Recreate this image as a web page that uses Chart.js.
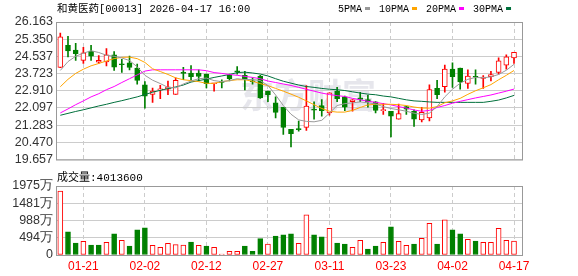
<!DOCTYPE html>
<html>
<head>
<meta charset="utf-8">
<script src="https://cdn.jsdelivr.net/npm/chart.js@4.4.1/dist/chart.umd.min.js"></script>
<style>
  html, body { margin: 0; padding: 0; background: #fff; }
  #wrap { position: relative; width: 578px; height: 276px; overflow: hidden; }
  #price { position: absolute; left: 0; top: 0; }
  #volume { position: absolute; left: 0; top: 170px; }
</style>
</head>
<body>
<div id="wrap">
  <canvas id="price" width="578" height="170"></canvas>
  <canvas id="volume" width="578" height="106"></canvas>
</div>
<script>
const stockName = '和黄医药[00013]';
const updateTime = '2026-04-17 16:00';

const dates = ['01-16','01-19','01-20','01-21','01-22','01-23','01-26','01-27','01-28','01-29',
  '01-30','02-02','02-03','02-04','02-05','02-06','02-09','02-10','02-11','02-12',
  '02-13','02-16','02-20','02-23','02-24','02-25','02-26','02-27','03-02','03-03',
  '03-04','03-05','03-06','03-09','03-10','03-11','03-12','03-13','03-16','03-17',
  '03-18','03-19','03-20','03-23','03-24','03-25','03-26','03-27','03-30','03-31',
  '04-01','04-02','04-08','04-09','04-10','04-13','04-14','04-15','04-16','04-17'];

const openP = [24.01,25.06,24.84,24.35,24.79,24.26,24.28,24.61,24.17,24.23,
  23.98,23.19,22.74,22.95,22.98,22.74,23.78,23.75,23.75,23.70,
  23.24,23.34,23.64,23.83,23.64,23.37,23.60,22.89,22.34,22.13,
  21.08,21.09,21.18,22.01,22.21,21.86,22.89,22.62,22.39,22.57,
  22.49,22.39,21.97,21.94,21.56,22.16,21.94,21.53,21.63,23.02,
  23.10,23.93,23.98,23.26,23.58,23.49,23.58,23.78,24.12,24.46];
const highP = [25.64,25.48,25.15,24.97,25.06,24.58,24.91,24.76,24.40,24.55,
  24.17,23.34,23.04,23.17,23.37,23.52,24.02,24.10,23.90,23.70,
  23.26,23.43,23.70,24.05,23.83,23.52,23.64,22.89,22.62,22.13,
  21.08,21.48,23.15,22.39,22.49,22.81,23.07,22.66,22.49,22.84,
  22.69,22.40,22.31,21.94,22.28,22.19,22.01,22.13,23.19,23.40,
  24.12,24.23,23.98,23.90,23.90,23.63,23.83,24.47,24.61,24.73];
const lowP = [24.00,24.51,24.35,24.20,24.35,24.20,24.08,23.87,23.78,23.90,
  23.22,22.09,22.36,22.54,22.72,22.74,23.44,23.37,23.37,23.04,
  22.89,23.04,23.37,23.70,22.95,23.22,22.55,22.39,21.63,20.84,
  20.25,21.00,21.03,21.56,21.71,21.75,22.39,21.97,21.94,22.39,
  22.13,21.86,21.79,20.73,21.56,21.79,21.22,21.44,21.48,22.54,
  22.84,23.07,22.99,23.02,23.22,23.02,23.37,23.70,23.93,24.20];
const closeP = [25.46,24.80,24.67,24.70,24.55,24.35,24.61,24.02,24.14,24.01,
  23.40,22.65,22.89,22.99,23.10,23.40,23.73,23.58,23.59,23.25,
  23.26,23.31,23.48,23.80,23.48,23.33,22.57,22.72,21.89,21.18,
  20.88,21.07,22.19,21.99,21.97,22.81,22.54,22.13,22.48,22.50,
  22.39,21.98,21.99,21.71,21.83,22.04,21.56,21.89,22.96,22.72,
  23.93,23.58,23.33,23.60,23.55,23.56,23.67,24.32,24.51,24.73];

// 成交量, 单位: 万股
const volumes = [1830,660,344,393,287,287,364,603,421,258,
  718,775,278,220,335,297,287,373,278,258,
  220,20,105,105,258,105,469,316,545,574,
  603,335,1148,574,517,765,344,316,220,421,
  172,258,364,804,393,278,316,478,909,316,
  1005,718,603,450,402,364,364,765,421,401.36];

const ma5 = [23.87,24.29,24.54,24.69,24.80,24.72,24.59,24.54,24.46,24.34,
  24.04,23.64,23.41,23.25,23.07,23.05,23.23,23.37,23.48,23.51,
  23.39,23.34,23.39,23.48,23.44,23.44,23.39,23.16,22.71,22.21,
  21.80,21.53,21.46,21.44,21.51,21.85,22.21,22.30,22.34,22.38,
  22.34,22.28,22.16,22.07,22.01,21.94,21.85,21.79,21.85,22.16,
  22.62,22.98,23.27,23.45,23.54,23.52,23.57,23.68,23.88,24.16];
const ma10 = [23.10,23.45,23.73,23.93,24.09,24.20,24.32,24.43,24.49,24.50,
  24.43,24.25,23.95,23.82,23.68,23.52,23.43,23.39,23.34,23.26,
  23.26,23.34,23.39,23.43,23.43,23.36,23.25,23.15,23.02,22.89,
  22.75,22.60,22.43,22.25,22.07,21.94,21.90,21.90,21.98,22.12,
  22.24,22.27,22.27,22.27,22.25,22.21,22.14,22.09,22.09,22.16,
  22.34,22.43,22.55,22.74,22.91,23.05,23.20,23.43,23.64,23.87];
const ma20 = [21.86,22.05,22.25,22.43,22.62,22.77,22.96,23.11,23.30,23.48,
  23.66,23.84,23.90,23.90,23.90,23.90,23.90,23.90,23.90,23.86,
  23.77,23.73,23.68,23.64,23.59,23.54,23.48,23.37,23.30,23.23,
  23.16,23.07,22.98,22.89,22.80,22.73,22.68,22.64,22.55,22.48,
  22.41,22.36,22.30,22.24,22.16,22.09,22.00,21.94,21.98,22.12,
  22.21,22.32,22.41,22.49,22.57,22.64,22.71,22.80,22.89,22.99];
const ma30 = [21.75,21.84,21.93,22.01,22.10,22.19,22.27,22.36,22.44,22.53,
  22.62,22.73,22.84,22.93,23.01,23.09,23.18,23.32,23.39,23.46,
  23.54,23.61,23.68,23.77,23.79,23.75,23.70,23.61,23.48,23.36,
  23.27,23.18,23.11,23.07,23.02,22.98,22.96,22.92,22.86,22.80,
  22.75,22.72,22.66,22.62,22.55,22.48,22.43,22.41,22.38,22.36,
  22.36,22.36,22.36,22.36,22.36,22.36,22.41,22.47,22.57,22.69];

const priceTicks = [19.657, 20.470, 21.283, 22.097, 22.910, 23.723, 24.537, 25.350, 26.163];
const volumeTicks = [0, 494, 988, 1481, 1975];
const dateTickIdx = [3, 11, 19, 27, 35, 43, 51, 59];

const RED = '#ff0000';
const GREEN = '#008000';
const GRID = '#cccccc';
const AXIS_FONT = { family: "'Liberation Sans', Arial, sans-serif", size: 12.5 };

const maLines = [
  { name: '5PMA', values: ma5, color: '#999999' },
  { name: '10PMA', values: ma10, color: '#ffa500' },
  { name: '20PMA', values: ma20, color: '#ff00ff' },
  { name: '30PMA', values: ma30, color: '#00703c' }
];

const up = closeP.map((c, i) => c >= openP[i]);
const volUp = closeP.map((c, i) => i === 0 ? c >= openP[0] : c >= closeP[i - 1]);

// shared x axis (index of trading day)
function xAxis(showLabels) {
  return {
    type: 'linear',
    offset: false,
    min: -0.56,
    max: 60.04,
    afterBuildTicks: s => { s.ticks = dateTickIdx.map(v => ({ value: v })); },
    afterFit: s => { s.height = showLabels ? 21 : 0; },
    grid: { color: GRID, drawTicks: false, offset: false },
    border: { display: false, dash: [4, 3] },
    ticks: {
      display: showLabels,
      autoSkip: false,
      maxRotation: 0,
      padding: 4,
      color: RED,
      font: { family: "'Liberation Sans', Arial, sans-serif", size: 12 },
      callback: v => dates[v]
    }
  };
}

function yAxis(ticksList, format) {
  return {
    min: ticksList[0],
    max: ticksList[ticksList.length - 1],
    afterBuildTicks: s => { s.ticks = ticksList.map(v => ({ value: v })); },
    afterFit: s => { s.width = 56; },
    grid: { color: GRID, drawTicks: false },
    border: { display: false },
    ticks: { color: '#333', font: AXIS_FONT, padding: 3, autoSkip: false, callback: format }
  };
}

const framePlugin = {
  id: 'frame',
  afterDraw(chart) {
    const { ctx, chartArea: a } = chart;
    ctx.save();
    ctx.strokeStyle = '#999999';
    ctx.lineWidth = 1;
    ctx.strokeRect(a.left + 0.5, a.top + 0.5, a.right - a.left, a.bottom - a.top);
    ctx.restore();
  }
};

const priceText = {
  id: 'priceText',
  beforeDraw(chart) {
    // 水印
    const ctx = chart.ctx;
    ctx.save();
    ctx.font = "bold 34px 'Noto Sans CJK SC'";
    ctx.fillStyle = '#e6e6ec';
    ctx.textBaseline = 'alphabetic';
    ctx.fillText('东方财富', 240, 108);
    ctx.restore();
  },
  afterDraw(chart) {
    const ctx = chart.ctx;
    ctx.save();
    ctx.fillStyle = '#000';
    ctx.textBaseline = 'middle';
    ctx.font = "10.5px 'Liberation Mono', 'Noto Sans CJK SC'";
    ctx.fillText(stockName + ' ' + updateTime, 57, 9);

    // 均线图例
    ctx.font = "10px 'Liberation Mono', monospace";
    let x = 338;
    maLines.forEach(m => {
      ctx.fillStyle = '#000';
      ctx.fillText(m.name, x, 9);
      x += ctx.measureText(m.name).width + 3;
      ctx.fillStyle = m.color;
      ctx.fillRect(x, 7, 5, 3);
      x += 5 + 9;
    });
    ctx.restore();
  }
};

const volumeText = {
  id: 'volumeText',
  afterDraw(chart) {
    const ctx = chart.ctx;
    ctx.save();
    ctx.fillStyle = '#000';
    ctx.textBaseline = 'middle';
    ctx.font = "11px 'Liberation Mono', 'Noto Sans CJK SC'";
    ctx.fillText('成交量:' + Math.round(volumes[volumes.length - 1] * 10000), 57, 8);
    ctx.restore();
  }
};

new Chart(document.getElementById('price'), {
  type: 'bar',
  data: {
    datasets: [
      ...maLines.map(m => ({
        type: 'line',
        label: m.name,
        data: m.values.map((v, i) => ({ x: i, y: v })),
        borderColor: m.color,
        borderWidth: 1,
        pointRadius: 0,
        tension: 0,
        order: 0
      })),
      {
        label: 'body',
        data: openP.map((o, i) => ({ x: i, y: [o, closeP[i]] })),
        backgroundColor: up.map(u => u ? '#ffffff' : GREEN),
        borderColor: up.map(u => u ? RED : GREEN),
        borderWidth: 1,
        borderSkipped: false,
        barThickness: 5,
        minBarLength: 1,
        grouped: false,
        order: 1
      },
      {
        label: 'wick',
        data: lowP.map((l, i) => ({ x: i, y: [l, highP[i]] })),
        backgroundColor: up.map(u => u ? RED : GREEN),
        borderWidth: 0,
        barThickness: 1,
        grouped: false,
        order: 2
      }
    ]
  },
  options: {
    responsive: false,
    animation: false,
    layout: { padding: { top: 22, right: 56, bottom: 5, left: 0 } },
    plugins: { legend: { display: false }, tooltip: { enabled: false } },
    scales: {
      x: xAxis(false),
      y: yAxis(priceTicks, v => v.toFixed(3))
    }
  },
  plugins: [priceText, framePlugin]
});

new Chart(document.getElementById('volume'), {
  type: 'bar',
  data: {
    datasets: [{
      label: '成交量',
      data: volumes.map((v, i) => ({ x: i, y: v })),
      backgroundColor: volUp.map(u => u ? '#ffffff' : GREEN),
      borderColor: volUp.map(u => u ? RED : GREEN),
      borderWidth: 1,
      borderSkipped: false,
      barThickness: 5,
      minBarLength: 1
    }]
  },
  options: {
    responsive: false,
    animation: false,
    layout: { padding: { top: 16, right: 56, bottom: 0, left: 0 } },
    plugins: { legend: { display: false }, tooltip: { enabled: false } },
    scales: {
      x: xAxis(true),
      y: yAxis(volumeTicks, v => v === 0 ? '0' : v + '万')
    }
  },
  plugins: [volumeText, framePlugin]
});
</script>
</body>
</html>
